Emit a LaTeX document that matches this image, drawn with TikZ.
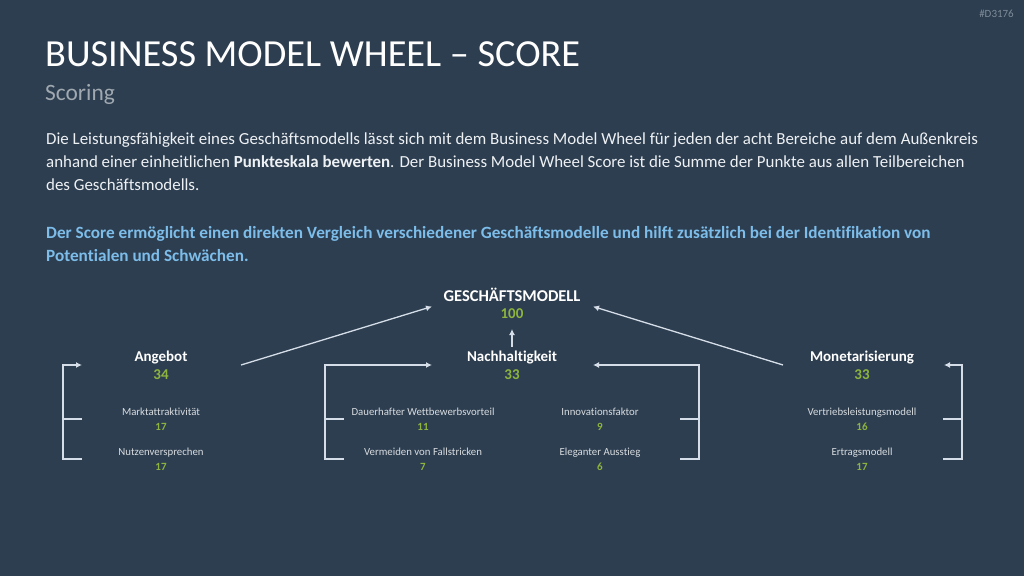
\documentclass[tikz,border=0pt]{standalone}
\usepackage{fontspec}
\setmainfont{Carlito}[Ligatures=NoCommon]
\usepackage{xcolor}
\usetikzlibrary{arrows.meta}

\definecolor{bgblue}{HTML}{2D3E50}
\definecolor{bodytxt}{HTML}{EEF1F4}
\definecolor{subgray}{HTML}{A0A8B0}
\definecolor{idgray}{HTML}{7F8C99}
\definecolor{hiblue}{HTML}{7DBDEA}
\definecolor{scoregreen}{HTML}{8DB43E}
\definecolor{linegray}{HTML}{D5DEE8}
\definecolor{itemgray}{HTML}{D8DCE0}

\tikzset{
  txtline/.style={anchor=base west,inner sep=0pt,text=bodytxt,font=\fontsize{16.9}{20}\selectfont},
  head/.style={anchor=base,inner sep=0pt,text=white,font=\fontsize{15}{18}\selectfont\bfseries},
  headval/.style={anchor=base,inner sep=0pt,text=scoregreen,font=\fontsize{15}{18}\selectfont\bfseries},
  item/.style={anchor=base,inner sep=0pt,text=itemgray,font=\fontsize{10.8}{13}\selectfont},
  itemval/.style={anchor=base,inner sep=0pt,text=scoregreen,font=\fontsize{11}{13}\selectfont\bfseries},
  conn/.style={linegray,line width=1.3pt},
  arr/.style={conn,-{Latex[length=6pt,width=6pt]}}
}

\begin{document}
\begin{tikzpicture}[x=1pt,y=-1pt]
  \fill[bgblue] (0,0) rectangle (1024,576);
  \useasboundingbox (0,0) rectangle (1024,576);

  % header
  \node[anchor=base east,inner sep=0pt,text=idgray,font=\fontsize{11}{13}\selectfont] (docid) at (1014,17) {\#D3176};
  \node[anchor=base west,inner sep=0pt,text=white,font=\fontsize{38.3}{46}\selectfont] (title) at (45,66) {BUSINESS MODEL WHEEL -- SCORE};
  \node[anchor=base west,inner sep=0pt,text=subgray,font=\fontsize{23.4}{28}\selectfont] (subtitle) at (45,100) {Scoring};

  % intro text
  \node[txtline] (intro1) at (46,144) {Die Leistungsfähigkeit eines Geschäftsmodells lässt sich mit dem Business Model Wheel für jeden der acht Bereiche auf dem Außenkreis};
  \node[txtline] (intro2) at (46,167) {anhand einer einheitlichen \textbf{Punkteskala bewerten}. Der Business Model Wheel Score ist die Summe der Punkte aus allen Teilbereichen};
  \node[txtline] (intro3) at (46,190) {des Geschäftsmodells.};
  \node[txtline,text=hiblue,font=\fontsize{17.2}{20}\selectfont\bfseries] (key1) at (46,238) {Der Score ermöglicht einen direkten Vergleich verschiedener Geschäftsmodelle und hilft zusätzlich bei der Identifikation von};
  \node[txtline,text=hiblue,font=\fontsize{17.2}{20}\selectfont\bfseries] (key2) at (46,261) {Potentialen und Schwächen.};

  % scores
  \node[head,font=\fontsize{16.5}{20}\selectfont\bfseries] (gm) at (512,301) {GESCHÄFTSMODELL};
  \node[headval] (gm-v) at (512,318) {100};
  \node[head] (ang) at (161,361) {Angebot};
  \node[headval] (ang-v) at (161,379) {34};
  \node[head] (nach) at (512,361) {Nachhaltigkeit};
  \node[headval] (nach-v) at (512,379) {33};
  \node[head] (mon) at (862,361) {Monetarisierung};
  \node[headval] (mon-v) at (862,379) {33};

  \node[item] (markt) at (161,415) {Marktattraktivität};
  \node[itemval] (markt-v) at (161,430) {17};
  \node[item] (nutzen) at (161,455.5) {Nutzenversprechen};
  \node[itemval] (nutzen-v) at (161,470) {17};
  \node[item] (wett) at (423,415) {Dauerhafter Wettbewerbsvorteil};
  \node[itemval] (wett-v) at (423,430) {11};
  \node[item] (fall) at (423,455.5) {Vermeiden von Fallstricken};
  \node[itemval] (fall-v) at (423,470) {7};
  \node[item] (innov) at (600,415) {Innovationsfaktor};
  \node[itemval] (innov-v) at (600,430) {9};
  \node[item] (exit) at (600,455.5) {Eleganter Ausstieg};
  \node[itemval] (exit-v) at (600,470) {6};
  \node[item] (vertrieb) at (862,415) {Vertriebsleistungsmodell};
  \node[itemval] (vertrieb-v) at (862,430) {16};
  \node[item] (ertrag) at (862,455.5) {Ertragsmodell};
  \node[itemval] (ertrag-v) at (862,470) {17};

  % connector ends
  \coordinate (gm-w) at (432,306.5);
  \coordinate (gm-e) at (593,306.5);
  \coordinate (gm-s) at (512,329);
  \coordinate (ang-e) at (241,365);
  \coordinate (ang-w) at (82,365);
  \coordinate (nach-n) at (512,347);
  \coordinate (nach-w) at (432,365);
  \coordinate (nach-e) at (593,365);
  \coordinate (mon-w) at (783,365);
  \coordinate (mon-e) at (944,365);

  % to the total
  \draw[arr] (ang-e) -- (gm-w);
  \draw[arr] (mon-w) -- (gm-e);
  \draw[arr] (nach-n) -- (gm-s);

  % brackets
  \draw[arr] (82,459) -- (63,459) |- (ang-w);
  \draw[conn] (82,419) -- (63,419);
  \draw[arr] (344,459) -- (325,459) |- (nach-w);
  \draw[conn] (344,419) -- (325,419);
  \draw[arr] (680,459) -- (699,459) |- (nach-e);
  \draw[conn] (680,419) -- (699,419);
  \draw[arr] (943,459) -- (962,459) |- (mon-e);
  \draw[conn] (943,419) -- (962,419);
\end{tikzpicture}
\end{document}
